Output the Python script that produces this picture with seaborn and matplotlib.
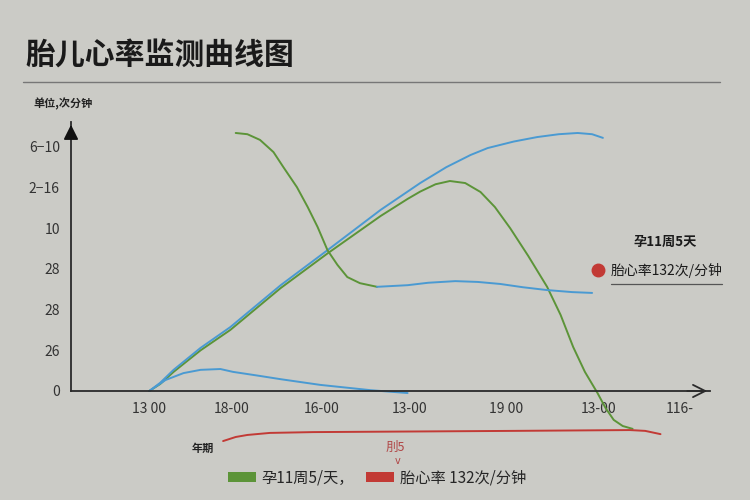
import matplotlib
matplotlib.use("Agg")
import matplotlib.pyplot as plt
from matplotlib.lines import Line2D
from matplotlib.patches import Patch
import pandas as pd
import seaborn as sns

sns.set_theme(style="white")
plt.rcParams["font.family"] = ["Noto Sans CJK SC", "DejaVu Sans"]

BG = "#cbcbc6"
BLUE = "#4a9ad2"
GREEN = "#5c9438"
RED = "#c23a35"
INK = "#2a2a2a"

# x ticks / y ticks as drawn on the reference
x_ticks = [0, 0.91, 1.92, 2.89, 3.96, 4.99, 5.89]
x_labels = ["13 00", "18-00", "16-00", "13-00", "19 00", "13-00", "116-"]
y_ticks = [0, 1, 2, 3, 4, 5, 6]
y_labels = ["0", "26", "28", "28", "10", "2\u221216", "6\u221210"]

# blue rising curve
blue_rise_x = [0, 0.12, 0.27, 0.57, 0.9, 1.46, 1.98, 2.57, 3.01, 3.3, 3.57, 3.76, 4.05, 4.31, 4.55, 4.76, 4.92, 5.04]
blue_rise_y = [0, 0.2, 0.52, 1.06, 1.57, 2.6, 3.46, 4.45, 5.11, 5.5, 5.8, 5.97, 6.13, 6.24, 6.31, 6.34, 6.31, 6.22]

# green hump curve (rises with the blue one, then falls below the axis)
green_hump_x = [0, 0.12, 0.27, 0.57, 0.9, 1.46, 1.98, 2.57, 2.87, 3.01, 3.18, 3.34, 3.51, 3.68, 3.84,
                4.01, 4.21, 4.42, 4.57, 4.71, 4.84, 4.98, 5.07, 5.16, 5.26, 5.37]
green_hump_y = [0, 0.17, 0.47, 1.0, 1.5, 2.53, 3.38, 4.3, 4.72, 4.9, 5.08, 5.16, 5.11, 4.89, 4.52,
                4.0, 3.32, 2.56, 1.87, 1.08, 0.47, -0.05, -0.42, -0.71, -0.86, -0.93]

# green falling S-curve that turns into a flat blue line
green_drop_x = [0.96, 1.09, 1.23, 1.38, 1.49, 1.64, 1.76, 1.87, 1.98, 2.09, 2.2, 2.34, 2.53]
green_drop_y = [6.34, 6.31, 6.17, 5.87, 5.5, 5.01, 4.52, 4.03, 3.46, 3.1, 2.8, 2.65, 2.56]
blue_flat_x = [2.53, 2.87, 3.1, 3.4, 3.65, 3.9, 4.15, 4.42, 4.7, 4.92]
blue_flat_y = [2.56, 2.6, 2.66, 2.7, 2.68, 2.63, 2.55, 2.48, 2.43, 2.41]

# small blue bump near the axis
blue_low_x = [0, 0.18, 0.38, 0.57, 0.79, 0.93, 1.2, 1.46, 1.9, 2.46, 2.87]
blue_low_y = [0, 0.27, 0.44, 0.52, 0.54, 0.47, 0.38, 0.29, 0.15, 0.02, -0.05]

# red brace-like line under the axis
red_x = [0.82, 0.96, 1.09, 1.34, 1.82, 4.04, 5.34, 5.51, 5.68]
red_y = [-1.23, -1.13, -1.08, -1.03, -1.01, -0.98, -0.96, -0.98, -1.06]

fig = plt.figure(figsize=(7.5, 5), dpi=100, facecolor=BG)
ax = fig.add_axes([71 / 750, 109 / 500, 639 / 750, 269 / 500])
ax.set_facecolor(BG)

series = [
    (green_hump_x, green_hump_y, GREEN),
    (blue_rise_x, blue_rise_y, BLUE),
    (green_drop_x, green_drop_y, GREEN),
    (blue_flat_x, blue_flat_y, BLUE),
    (blue_low_x, blue_low_y, BLUE),
    (red_x, red_y, RED),
]
for xs, ys, col in series:
    d = pd.DataFrame({"x": xs, "y": ys})
    sns.lineplot(data=d, x="x", y="y", ax=ax, color=col, lw=1.4,
                 sort=False, estimator=None, clip_on=False)

ax.set_xlim(-0.87, 6.23)
ax.set_ylim(0, 6.61)
ax.set_xticks(x_ticks)
ax.set_xticklabels(x_labels)
ax.set_yticks(y_ticks)
ax.set_yticklabels(y_labels)
ax.set_xlabel("")
ax.set_ylabel("")
ax.tick_params(axis="both", direction="inout", length=8, width=1.1,
               colors="#333333", labelsize=10, pad=4)
ax.xaxis.get_major_ticks()[-1].tick1line.set_visible(False)
for side in ["top", "right"]:
    ax.spines[side].set_visible(False)
for side in ["left", "bottom"]:
    ax.spines[side].set_color(INK)
    ax.spines[side].set_linewidth(1.3)

# axis arrows
ax.annotate("", xy=(0, 1.0), xytext=(0, 0.93), xycoords="axes fraction",
            arrowprops=dict(arrowstyle="-|>", color="#111111", lw=1.3, mutation_scale=22),
            annotation_clip=False)
ax.annotate("", xy=(1.0, 0), xytext=(0.96, 0), xycoords="axes fraction",
            arrowprops=dict(arrowstyle="->", color=INK, lw=1.3, mutation_scale=22),
            annotation_clip=False)

# title and rule
fig.text(25 / 750, 1 - 56 / 500, "胎儿心率监测曲线图", fontsize=21.5,
         fontweight="bold", color="#1a1a1a", va="center", ha="left")
fig.add_artist(Line2D([23 / 750, 720 / 750], [1 - 82 / 500] * 2,
                      color="#777777", lw=1.0, transform=fig.transFigure))
fig.text(33 / 750, 1 - 104 / 500, "单位,次分钟", fontsize=8,
         fontweight="bold", color="#222222", va="center", ha="left")

# right side note
fig.text(665 / 750, 1 - 242 / 500, "孕11周5天", fontsize=9.5,
         fontweight="bold", color="#1a1a1a", va="center", ha="center")
fig.add_artist(Line2D([598 / 750], [1 - 270 / 500], marker="o", markersize=9,
                      color=RED, transform=fig.transFigure))
fig.text(611 / 750, 1 - 270 / 500, "胎心率132次/分钟", fontsize=10,
         color="#1a1a1a", va="center", ha="left")
fig.add_artist(Line2D([611 / 750, 722 / 750], [1 - 284 / 500] * 2,
                      color="#555555", lw=0.9, transform=fig.transFigure))

# small bottom notes
fig.text(203 / 750, 1 - 448 / 500, "年期", fontsize=8, fontweight="bold",
         color="#222222", va="center", ha="center")
fig.text(395 / 750, 1 - 447 / 500, "刖5", fontsize=9, color="#b04545",
         va="center", ha="center")
fig.text(398 / 750, 1 - 461 / 500, "v", fontsize=7, color="#b04545",
         va="center", ha="center", family="DejaVu Sans")

handles = [Patch(facecolor=GREEN, edgecolor="none"), Patch(facecolor=RED, edgecolor="none")]
fig.legend(handles, ["孕11周5/天，", "胎心率 132次/分钟"], loc="center",
           bbox_to_anchor=(0.503, 1 - 478 / 500), ncol=2, frameon=False,
           fontsize=11, handlelength=1.8, handleheight=0.6,
           handletextpad=0.4, columnspacing=0.8)

fig.savefig("out.png", dpi=100, facecolor=BG)
